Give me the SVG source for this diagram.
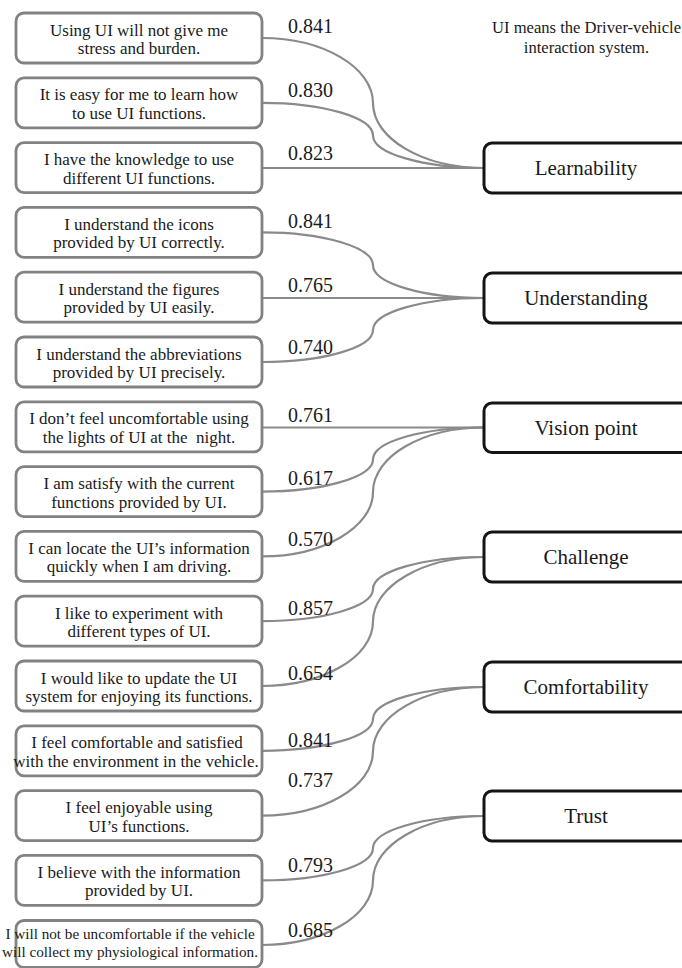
<svg xmlns="http://www.w3.org/2000/svg" width="682" height="968" viewBox="0 0 682 968">
<style>
.bg{fill:#ffffff}
.item rect{fill:#ffffff;stroke:#828282;stroke-width:2.8}
.item text{font-family:"Liberation Serif","Times New Roman",serif;font-size:17px;fill:#1a1a1a;text-anchor:middle}
.item text.small{font-size:15.2px}
.factor rect{fill:#ffffff;stroke:#141414;stroke-width:3}
.factor text{font-family:"Liberation Serif","Times New Roman",serif;font-size:21px;fill:#1a1a1a;text-anchor:middle}
.score{font-family:"Liberation Serif","Times New Roman",serif;font-size:20px;fill:#1a1a1a}
.note{font-family:"Liberation Serif","Times New Roman",serif;font-size:16.6px;fill:#1a1a1a;text-anchor:middle}
#connectors path{fill:none;stroke:#8a8a8a;stroke-width:2.2}
</style>
<rect class="bg" x="0" y="0" width="682" height="968"/>

<g id="connectors">
<path d="M262,38 C323,38 373,67.3 373,103 C373,138.8 423,168 484,168"/>
<path d="M262,102.8 C323,102.8 373,117.5 373,135.4 C373,153.3 423,168 484,168"/>
<path d="M262,168 H484"/>
<path d="M262,232.4 C323,232.4 373,247.2 373,265.2 C373,283.2 423,298 484,298"/>
<path d="M262,298 H484"/>
<path d="M262,362 C323,362 373,347.6 373,330 C373,312.4 423,298 484,298"/>
<path d="M262,427.5 H484"/>
<path d="M262,491.6 C323,491.6 373,477.1 373,459.5 C373,441.5 423,427.5 484,427.5"/>
<path d="M262,556.4 C323,556.4 373,527.3 373,492 C373,456.1 423,427.5 484,427.5"/>
<path d="M262,621.2 C323,621.2 373,606.8 373,589.1 C373,571.4 423,557 484,557"/>
<path d="M262,686 C323,686 373,657 373,621.5 C373,586 423,557 484,557"/>
<path d="M262,750.8 C323,750.8 373,736.4 373,718.9 C373,701.4 423,687 484,687"/>
<path d="M262,815.6 C323,815.6 373,786.7 373,751.3 C373,715.9 423,687 484,687"/>
<path d="M262,880.4 C323,880.4 373,865.9 373,848.2 C373,830.5 423,816 484,816"/>
<path d="M262,945 C323,945 373,916 373,880.5 C373,845 423,816 484,816"/>
</g>

<g id="labels">
<text class="score" x="288" y="33">0.841</text>
<text class="score" x="288" y="97">0.830</text>
<text class="score" x="288" y="160">0.823</text>
<text class="score" x="288" y="228">0.841</text>
<text class="score" x="288" y="292">0.765</text>
<text class="score" x="288" y="354">0.740</text>
<text class="score" x="288" y="422">0.761</text>
<text class="score" x="288" y="485">0.617</text>
<text class="score" x="288" y="546">0.570</text>
<text class="score" x="288" y="615">0.857</text>
<text class="score" x="288" y="680">0.654</text>
<text class="score" x="288" y="747">0.841</text>
<text class="score" x="288" y="787">0.737</text>
<text class="score" x="288" y="872">0.793</text>
<text class="score" x="288" y="937">0.685</text>
</g>

<g id="note">
<text class="note" x="586.5" y="33">UI means the Driver-vehicle</text>
<text class="note" x="586.5" y="53">interaction system.</text>
</g>

<g id="item1" class="item"><rect x="16" y="13" width="246" height="50" rx="8"/><text x="139" y="35.5">Using UI will not give me</text><text x="139" y="54">stress and burden.</text></g>
<g id="item2" class="item"><rect x="16" y="77.8" width="246" height="50" rx="8"/><text x="139" y="100.3">It is easy for me to learn how</text><text x="139" y="118.8">to use UI functions.</text></g>
<g id="item3" class="item"><rect x="16" y="142.6" width="246" height="50" rx="8"/><text x="139" y="165.1">I have the knowledge to use</text><text x="139" y="183.6">different UI functions.</text></g>
<g id="item4" class="item"><rect x="16" y="207.4" width="246" height="50" rx="8"/><text x="139" y="229.9">I understand the icons</text><text x="139" y="248.4">provided by UI correctly.</text></g>
<g id="item5" class="item"><rect x="16" y="272.2" width="246" height="50" rx="8"/><text x="139" y="294.7">I understand the figures</text><text x="139" y="313.2">provided by UI easily.</text></g>
<g id="item6" class="item"><rect x="16" y="337" width="246" height="50" rx="8"/><text x="139" y="359.5">I understand the abbreviations</text><text x="139" y="378">provided by UI precisely.</text></g>
<g id="item7" class="item"><rect x="16" y="401.8" width="246" height="50" rx="8"/><text x="139" y="424.3">I don’t feel uncomfortable using</text><text x="139" y="442.8" style="white-space:pre">the lights of UI at the  night.</text></g>
<g id="item8" class="item"><rect x="16" y="466.6" width="246" height="50" rx="8"/><text x="139" y="489.1">I am satisfy with the current</text><text x="139" y="507.6">functions provided by UI.</text></g>
<g id="item9" class="item"><rect x="16" y="531.4" width="246" height="50" rx="8"/><text x="139" y="553.9">I can locate the UI’s information</text><text x="139" y="572.4">quickly when I am driving.</text></g>
<g id="item10" class="item"><rect x="16" y="596.2" width="246" height="50" rx="8"/><text x="139" y="618.7">I like to experiment with</text><text x="139" y="637.2">different types of UI.</text></g>
<g id="item11" class="item"><rect x="16" y="661" width="246" height="50" rx="8"/><text x="139" y="683.5">I would like to update the UI</text><text x="139" y="702">system for enjoying its functions.</text></g>
<g id="item12" class="item"><rect x="16" y="725.8" width="246" height="50" rx="8"/><text x="137" y="748.3">I feel comfortable and satisfied</text><text x="136" y="766.8">with the environment in the vehicle.</text></g>
<g id="item13" class="item"><rect x="16" y="790.6" width="246" height="50" rx="8"/><text x="139" y="813.1">I feel enjoyable using</text><text x="139" y="831.6">UI’s functions.</text></g>
<g id="item14" class="item"><rect x="16" y="855.4" width="246" height="50" rx="8"/><text x="139" y="877.9">I believe with the information</text><text x="139" y="896.4">provided by UI.</text></g>
<g id="item15" class="item"><rect x="16" y="920.5" width="246" height="47" rx="8"/><text class="small" x="130" y="938.5">I will not be uncomfortable if the vehicle</text><text class="small" x="130" y="957">will collect my physiological information.</text></g>

<g id="learnability" class="factor"><rect x="484" y="143" width="206" height="50" rx="8"/><text x="586" y="175">Learnability</text></g>
<g id="understanding" class="factor"><rect x="484" y="273" width="206" height="50" rx="8"/><text x="586" y="305">Understanding</text></g>
<g id="vision-point" class="factor"><rect x="484" y="403" width="206" height="49.5" rx="8"/><text x="586" y="435">Vision point</text></g>
<g id="challenge" class="factor"><rect x="484" y="532" width="206" height="50" rx="8"/><text x="586" y="564">Challenge</text></g>
<g id="comfortability" class="factor"><rect x="484" y="662" width="206" height="50" rx="8"/><text x="586" y="694">Comfortability</text></g>
<g id="trust" class="factor"><rect x="484" y="791" width="206" height="50" rx="8"/><text x="586" y="823">Trust</text></g>
</svg>
